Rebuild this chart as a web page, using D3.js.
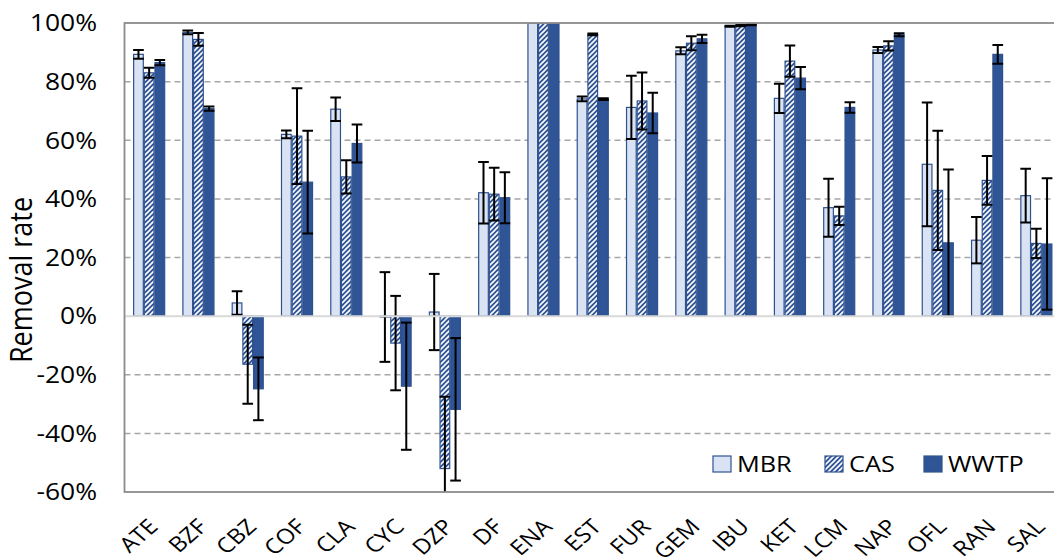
<!DOCTYPE html>
<html><head><meta charset="utf-8">
<script src="https://cdn.jsdelivr.net/npm/d3@7/dist/d3.min.js"></script>
<style>
html,body{margin:0;padding:0;background:#fff;}
text{font-family:"Open Sans",sans-serif;fill:#000;}
</style></head>
<body>
<svg id="chart" width="1054" height="560"></svg>
<script>
const categories = ["ATE","BZF","CBZ","COF","CLA","CYC","DZP","DF","ENA","EST","FUR","GEM","IBU","KET","LCM","NAP","OFL","RAN","SAL"];
const seriesNames = ["MBR","CAS","WWTP"];
const mbr    = [89.3, 96.8,   4.5, 62.0, 70.6,  -0.3,   1.4, 42.1, 100, 74.1, 71.2, 90.5, 98.9, 74.3, 37.0, 90.8, 51.8, 25.9, 41.1];
const mbrErr = [ 1.5,  0.6,   4.0,  1.3,  4.0,  15.3,  13.0, 10.5,   0,  0.8, 10.8,  1.2,  0.2,  5.0,  9.9,  1.0, 21.1,  7.9,  9.2];
const cas    = [83.0, 94.4, -16.4, 61.4, 47.5,  -9.2, -52.0, 41.6, 100, 96.1, 73.4, 93.1, 99.1, 87.0, 34.2, 92.2, 42.9, 46.3, 24.8];
const casErr = [ 1.7,  2.2,  13.5, 16.3,  5.7,  16.1,  24.5,  9.0,   0,  0.3,  9.7,  2.4,  0.2,  5.3,  3.1,  1.6, 20.3,  8.3,  5.0];
const wwtp   = [86.5, 70.8, -24.8, 45.7, 58.9, -23.9, -31.8, 40.4, 100, 74.0, 69.3, 94.6, 99.4, 81.2, 71.2, 96.0, 25.0, 89.3, 24.6];
const wwtpErr= [ 0.9,  0.7,  10.7, 17.5,  6.5,  21.7,  24.3,  8.7,   0,  0.3,  6.9,  1.4,  0.2,  3.8,  1.8,  0.5, 25.0,  3.2, 22.4];
const yTicks = [-60,-40,-20,0,20,40,60,80,100];
const yLabel = "Removal rate";

(function(){
const values = [mbr, cas, wwtp];
const errors = [mbrErr, casErr, wwtpErr];

const svg = d3.select("#chart");
const pLeft = 124.5, pTop = 23, pBottom = 492, step = 49.29;
const pRight = pLeft + step * categories.length;
const SX = 1.15; // horizontal text stretch

const x = d3.scaleBand().domain(categories).range([pLeft, pRight]).paddingInner(0.35).paddingOuter(0.175);
const xs = d3.scaleBand().domain(seriesNames).range([0, x.bandwidth()]);
const y = d3.scaleLinear().domain([-60, 100]).range([pBottom, pTop]);

const defs = svg.append("defs");
const pat = defs.append("pattern").attr("id","hatch").attr("patternUnits","userSpaceOnUse")
  .attr("width",5).attr("height",5);
pat.append("rect").attr("width",5).attr("height",5).attr("fill","#2f5597");
pat.append("path").attr("d","M-1,1 L1,-1 M0,5 L5,0 M4,6 L6,4").attr("stroke","#ffffff").attr("stroke-width",1.6);
defs.append("clipPath").attr("id","clip").append("rect")
  .attr("x",pLeft).attr("y",pTop).attr("width",pRight-pLeft).attr("height",pBottom-pTop);

// grid lines
svg.append("g").selectAll("line").data(yTicks.filter(t => t !== -60 && t !== 100 && t !== 0)).join("line")
  .attr("x1",pLeft).attr("x2",pRight).attr("y1",d=>y(d)).attr("y2",d=>y(d))
  .attr("stroke","#a6a6a6").attr("stroke-width",1.5).attr("stroke-dasharray","6,4");

const fills = ["#dae3f3","url(#hatch)","#2f5597"];
const strokes = ["#2f528f","#2f528f","#2f528f"];

const plot = svg.append("g").attr("clip-path","url(#clip)");
seriesNames.forEach((s, si) => {
  const data = categories.map((c, i) => ({c, v: values[si][i], e: errors[si][i]}));
  plot.append("g").selectAll("rect").data(data).join("rect")
    .attr("x", d => x(d.c) + xs(s) + 0.5)
    .attr("width", xs.bandwidth() - 1)
    .attr("y", d => y(Math.max(0, d.v)))
    .attr("height", d => Math.abs(y(d.v) - y(0)))
    .attr("fill", fills[si]).attr("stroke", strokes[si]).attr("stroke-width",1.2);
});

// zero line
svg.append("line").attr("x1",pLeft).attr("x2",pRight).attr("y1",y(0)).attr("y2",y(0))
  .attr("stroke","#d9d9d9").attr("stroke-width",2);

// error bars
seriesNames.forEach((s, si) => {
  const data = categories.map((c, i) => ({c, v: values[si][i], e: errors[si][i]})).filter(d => d.e > 0);
  const g = plot.append("g").attr("stroke","#000").attr("stroke-width",2);
  const cx = d => x(d.c) + xs(s) + xs.bandwidth()/2;
  const hw = xs.bandwidth()/2;
  g.selectAll("line.v").data(data).join("line").attr("class","v")
    .attr("x1",cx).attr("x2",cx).attr("y1",d=>y(d.v+d.e)).attr("y2",d=>y(d.v-d.e));
  g.selectAll("line.t").data(data).join("line").attr("class","t")
    .attr("x1",d=>cx(d)-hw).attr("x2",d=>cx(d)+hw).attr("y1",d=>y(d.v+d.e)).attr("y2",d=>y(d.v+d.e));
  g.selectAll("line.b").data(data).join("line").attr("class","b")
    .attr("x1",d=>cx(d)-hw).attr("x2",d=>cx(d)+hw).attr("y1",d=>y(d.v-d.e)).attr("y2",d=>y(d.v-d.e));
});

// plot border
svg.append("rect").attr("x",pLeft).attr("y",pTop).attr("width",pRight-pLeft).attr("height",pBottom-pTop)
  .attr("fill","none").attr("stroke","#8c8c8c").attr("stroke-width",1.8);

// y axis labels
svg.append("g").selectAll("text").data(yTicks).join("text")
  .attr("transform", d => `translate(97,${y(d)}) scale(${SX},1)`)
  .attr("text-anchor","end").attr("dy","0.36em").style("font-size","23px")
  .text(d => d + "%");

// y title
svg.append("text").attr("transform",`translate(32,280) scale(${SX},1) rotate(-90)`)
  .attr("text-anchor","middle").style("font-size","27px").text(yLabel);

// x axis labels
svg.append("g").selectAll("text").data(categories).join("text")
  .attr("transform", d => `translate(${x(d) + x.bandwidth()/2 + 10},528) scale(${SX},1) rotate(-45)`)
  .attr("text-anchor","end").style("font-size","21px")
  .text(d => d);

// legend
const legend = svg.append("g");
const legX = [713, 825, 924];
seriesNames.forEach((s, i) => {
  legend.append("rect").attr("x",legX[i]).attr("y",456).attr("width",18).attr("height",16)
    .attr("fill",fills[i]).attr("stroke","#2f528f").attr("stroke-width",1.2);
  legend.append("text").attr("transform",`translate(${legX[i]+24},472) scale(${SX},1)`)
    .style("font-size","22px").text(s);
});
})();
</script>
</body></html>
